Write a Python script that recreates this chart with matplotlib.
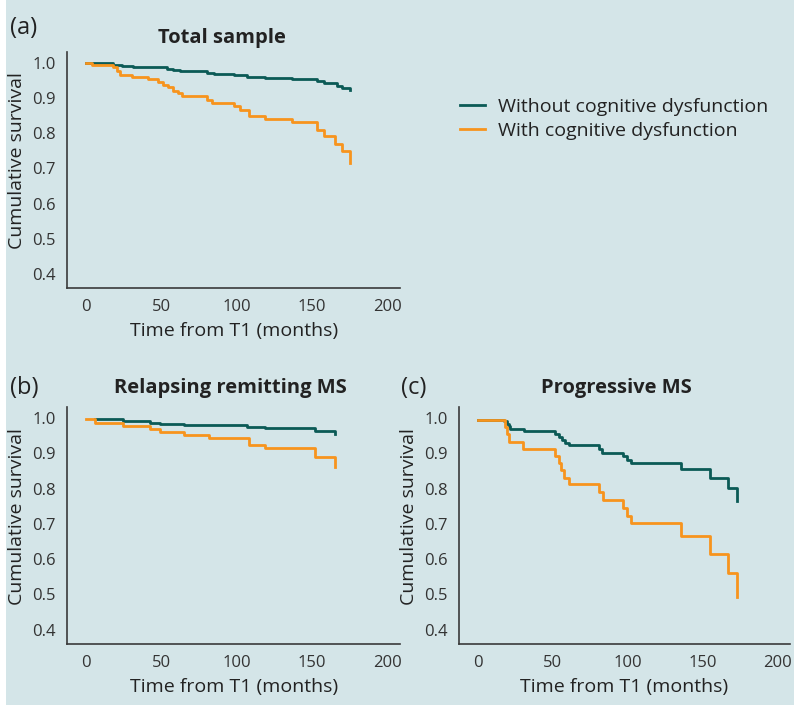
import matplotlib.pyplot as plt
from matplotlib.patches import Rectangle

plt.rcParams['font.family'] = ['Open Sans', 'DejaVu Sans']

BG = '#d4e5e8'
TEAL = '#0b5a56'
ORANGE = '#f7941d'

LEGEND_LABELS = ["Without cognitive dysfunction", "With cognitive dysfunction"]
Y_TICKS = [0.4, 0.5, 0.6, 0.7, 0.8, 0.9, 1.0]
X_TICKS = [0, 50, 100, 150, 200]

# (a) Total sample
a_t_without = [0, 18.2, 23.7, 31.4, 47, 53.6, 58, 62.5, 80.2, 84.6, 97.9, 106.8,
               118.9, 136.7, 153.3, 157.7, 166.6, 169.9, 175.4]
a_s_without = [1.0, 0.993, 0.990, 0.989, 0.987, 0.983, 0.979, 0.976, 0.972, 0.969, 0.966,
               0.961, 0.958, 0.954, 0.947, 0.942, 0.933, 0.929, 0.923]
a_t_with = [0, 3.8, 18.2, 20.4, 22.6, 30.3, 41.4, 48, 51.4, 54.7, 58, 61.3, 63.6, 80.2,
            83.5, 97.9, 102.3, 107.9, 118.9, 136.7, 153.3, 157.7, 165.4, 169.9, 175.4]
a_s_with = [1.0, 0.993, 0.987, 0.977, 0.966, 0.960, 0.953, 0.946, 0.938, 0.931, 0.921,
            0.914, 0.905, 0.895, 0.885, 0.877, 0.865, 0.849, 0.841, 0.831, 0.810, 0.792,
            0.768, 0.748, 0.716]

# (b) Relapsing remitting MS
b_t_without = [6, 24.8, 42.5, 49.2, 64.7, 81.3, 106.8, 118.9, 152.2, 165.4]
b_s_without = [0.996, 0.990, 0.987, 0.984, 0.981, 0.979, 0.974, 0.971, 0.964, 0.955]
b_t_with = [0, 6, 24.8, 42.5, 49.2, 64.7, 81.3, 107.9, 118.9, 152.2, 165.4]
b_s_with = [0.996, 0.986, 0.978, 0.970, 0.961, 0.953, 0.944, 0.924, 0.915, 0.890, 0.860]

# (c) Progressive MS
c_t_without = [0, 17.5, 19.7, 20.8, 21.5, 30.8, 51.8, 54.1, 56.3, 58.5, 60.7, 81.3, 83.3,
               96.8, 99.9, 102.1, 135.5, 155.3, 167.4, 173.2]
c_s_without = [0.995, 0.990, 0.984, 0.977, 0.970, 0.962, 0.954, 0.946, 0.937, 0.930,
               0.923, 0.911, 0.902, 0.892, 0.881, 0.872, 0.855, 0.831, 0.802, 0.765]
c_t_with = [0, 18.2, 19.7, 21.0, 30.4, 51.8, 54.1, 55.8, 57.8, 61.1, 81.3, 83.5, 96.8,
            99.9, 102.1, 135.5, 155.3, 167.4, 173.2]
c_s_with = [0.995, 0.975, 0.954, 0.932, 0.913, 0.892, 0.872, 0.852, 0.831, 0.812, 0.790,
            0.767, 0.745, 0.723, 0.701, 0.666, 0.615, 0.561, 0.493]

fig = plt.figure(figsize=(7.94, 7.06), dpi=100, facecolor='white')
fig.patches.append(Rectangle((6 / 794, 0.002), 1, 1, transform=fig.transFigure,
                             facecolor=BG, edgecolor='none', zorder=-10))


def km_panel(rect, letter, title, t1, s1, t2, s2, letter_x, title_x, letter_dy, title_dy):
    ax = fig.add_axes(rect)
    ax.set_facecolor('none')
    ax.step(t1, s1, where='post', color=TEAL, lw=2)
    ax.step(t2, s2, where='post', color=ORANGE, lw=2)
    ax.set_xlim(-12.6, 208.6)
    ax.set_ylim(0.36, 1.03)
    ax.set_xticks(X_TICKS)
    ax.set_yticks(Y_TICKS)
    ax.set_yticklabels([f"{v:.1f}" for v in Y_TICKS])
    ax.tick_params(length=0, labelsize=12, labelcolor='#333333', pad=8)
    for side in ['top', 'right']:
        ax.spines[side].set_visible(False)
    for side in ['left', 'bottom']:
        ax.spines[side].set_color('#3a3a3a')
        ax.spines[side].set_linewidth(1.2)
    ax.set_xlabel("Time from T1 (months)", fontsize=14, color='#222222', labelpad=5)
    ax.set_ylabel("Cumulative survival", fontsize=14, color='#222222')
    ax.yaxis.set_label_coords(-0.123, 0.54)
    top = rect[1] + rect[3]
    fig.text(letter_x, top + letter_dy, letter, fontsize=17, color='#222222',
             ha='left', va='center')
    fig.text(title_x, top + title_dy, title, fontsize=14.5, fontweight='bold',
             color='#222222', ha='center', va='center')
    return ax


ax_a = km_panel([0.0844, 0.592, 0.42, 0.334], "(a)", "Total sample",
                a_t_without, a_s_without, a_t_with, a_s_with, 10 / 794, 222 / 794,
                0.034, 0.020)
ax_b = km_panel([0.0844, 0.088, 0.42, 0.335], "(b)", "Relapsing remitting MS",
                b_t_without, b_s_without, b_t_with, b_s_with, 10 / 794, 230 / 794,
                0.028, 0.028)
ax_c = km_panel([0.578, 0.088, 0.417, 0.335], "(c)", "Progressive MS",
                c_t_without, c_s_without, c_t_with, c_s_with, 401 / 794, 616 / 794,
                0.028, 0.028)

handles = [plt.Line2D([], [], color=TEAL, lw=2), plt.Line2D([], [], color=ORANGE, lw=2)]
fig.legend(handles, LEGEND_LABELS, loc='center left', bbox_to_anchor=(0.557, 0.832),
           frameon=False, fontsize=14, handlelength=1.3, handletextpad=0.65,
           labelspacing=0.3, labelcolor='#222222')

fig.savefig("out.png", dpi=100, facecolor=fig.get_facecolor())
